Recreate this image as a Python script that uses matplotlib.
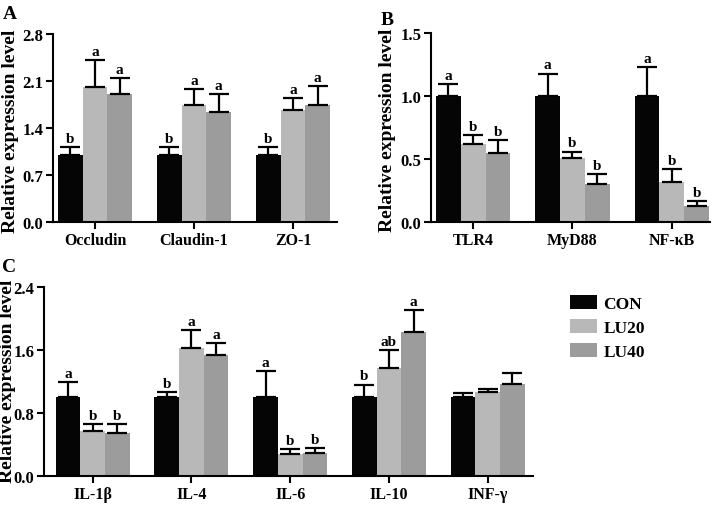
import matplotlib
matplotlib.use("Agg")
import matplotlib.pyplot as plt
import numpy as np
from matplotlib.patches import Patch

plt.rcParams['font.family'] = ['Liberation Serif', 'DejaVu Serif']
plt.rcParams['font.weight'] = 'bold'

groups = ['CON', 'LU20', 'LU40']
colors = ['#050505', '#b8b8b8', '#9c9c9c']

# panel A - tight junction
a_genes = ['Occludin', 'Claudin-1', 'ZO-1']
a_con = [1.0, 1.0, 1.0]
a_con_err = [0.11, 0.11, 0.12]
a_lu20 = [2.01, 1.75, 1.67]
a_lu20_err = [0.40, 0.23, 0.18]
a_lu40 = [1.90, 1.64, 1.74]
a_lu40_err = [0.24, 0.27, 0.28]
a_letters = [['b', 'b', 'b'], ['a', 'a', 'a'], ['a', 'a', 'a']]
a_ticks = [0.0, 0.7, 1.4, 2.1, 2.8]

# panel B - TLR4 pathway
b_genes = ['TLR4', 'MyD88', 'NF-κB']
b_con = [1.0, 1.0, 1.0]
b_con_err = [0.10, 0.18, 0.23]
b_lu20 = [0.62, 0.51, 0.32]
b_lu20_err = [0.07, 0.05, 0.10]
b_lu40 = [0.55, 0.30, 0.13]
b_lu40_err = [0.10, 0.08, 0.04]
b_letters = [['a', 'a', 'a'], ['b', 'b', 'b'], ['b', 'b', 'b']]
b_ticks = [0.0, 0.5, 1.0, 1.5]

# panel C - cytokines
c_genes = ['IL-1β', 'IL-4', 'IL-6', 'IL-10', 'INF-γ']
c_con = [1.0, 1.0, 1.0, 1.0, 1.0]
c_con_err = [0.19, 0.07, 0.33, 0.16, 0.05]
c_lu20 = [0.57, 1.62, 0.28, 1.37, 1.07]
c_lu20_err = [0.09, 0.23, 0.06, 0.23, 0.03]
c_lu40 = [0.54, 1.53, 0.29, 1.82, 1.17]
c_lu40_err = [0.12, 0.16, 0.06, 0.29, 0.14]
c_letters = [['a', 'b', 'a', 'b', ''], ['b', 'a', 'b', 'ab', ''], ['b', 'a', 'b', 'a', '']]
c_ticks = [0.0, 0.8, 1.6, 2.4]


def panel(ax, genes, vals, errs, letters, ticks, xlim, label_x, label_y):
    x = np.arange(len(genes))
    w = 0.25
    for i in range(3):
        xs = x + (i - 1) * w
        ax.bar(xs, vals[i], w, color=colors[i], zorder=2)
        ax.errorbar(xs, vals[i], yerr=[np.zeros(len(genes)), errs[i]], fmt='none',
                    ecolor='black', elinewidth=1.6, capsize=7, capthick=1.6, zorder=3)
        for j in range(len(genes)):
            if letters[i][j]:
                ax.annotate(letters[i][j], (xs[j], vals[i][j] + errs[i][j]),
                            xytext=(0, 1.5), textcoords='offset points',
                            ha='center', va='bottom', fontsize=11, fontweight='bold')
    ax.set_xlim(*xlim)
    ax.set_ylim(ticks[0], ticks[-1])
    ax.set_yticks(ticks)
    ax.set_yticklabels(['%.1f' % t for t in ticks], fontsize=12, fontweight='bold')
    ax.set_xticks(x)
    ax.set_xticklabels(genes, fontsize=11.5, fontweight='bold')
    ax.spines['top'].set_visible(False)
    ax.spines['right'].set_visible(False)
    ax.spines['left'].set_linewidth(1.5)
    ax.spines['bottom'].set_linewidth(1.5)
    ax.tick_params(width=1.5, length=5, pad=2)
    ax.set_ylabel('Relative expression level', fontsize=14, fontweight='bold')
    ax.yaxis.set_label_coords(label_x, label_y)


fig = plt.figure(figsize=(7.23, 5.06), dpi=100)
axA = fig.add_axes([0.0733, 0.5593, 0.3928, 0.3715])
axB = fig.add_axes([0.5961, 0.5593, 0.3859, 0.3729])
axC = fig.add_axes([0.0613, 0.0573, 0.6755, 0.3741])

panel(axA, a_genes, [a_con, a_lu20, a_lu40], [a_con_err, a_lu20_err, a_lu40_err],
      a_letters, a_ticks, (-0.424, 2.444), -0.118, 0.49)
panel(axB, b_genes, [b_con, b_lu20, b_lu40], [b_con_err, b_lu20_err, b_lu40_err],
      b_letters, b_ticks, (-0.424, 2.384), -0.124, 0.49)
panel(axC, c_genes, [c_con, c_lu20, c_lu40], [c_con_err, c_lu20_err, c_lu40_err],
      c_letters, c_ticks, (-0.49, 4.456), -0.059, 0.504)

fig.text(0.004, 0.988, 'A', fontsize=14, fontweight='bold', va='top')
fig.text(0.527, 0.977, 'B', fontsize=14, fontweight='bold', va='top')
fig.text(0.003, 0.488, 'C', fontsize=14, fontweight='bold', va='top')

handles = [Patch(facecolor=c, edgecolor='none') for c in colors]
fig.legend(handles, groups, loc='upper left', bbox_to_anchor=(0.788, 0.415),
           frameon=False, borderpad=0, borderaxespad=0, handlelength=1.55,
           handleheight=0.9, handletextpad=0.4, labelspacing=0.38,
           prop={'size': 12.5, 'weight': 'bold'})

fig.savefig('out.png', dpi=100)
